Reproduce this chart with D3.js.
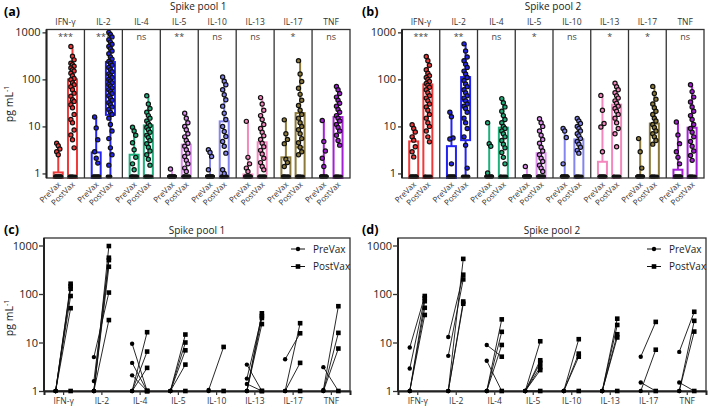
<!DOCTYPE html>
<html lang="en">
<head>
<meta charset="UTF-8">
<title>Spike pool cytokines</title>
<script src="https://d3js.org/d3.v7.min.js"></script>
<style>
  body { margin: 0; background: #fff; }
  svg { font-family: "Open Sans", sans-serif; }
</style>
</head>
<body>
<div id="chart"></div>
<script>
// ---------- data ----------
var cytokines = ["IFN-\u03b3", "IL-2", "IL-4", "IL-5", "IL-10", "IL-13", "IL-17", "TNF"];
var colors = ["#f03a3a", "#2424f0", "#1fb07c", "#e08ef0", "#8585f0", "#f488be", "#8c7a3a", "#a41fd6"];
var groups = ["PreVax", "PostVax"];

var sigA = ["***", "***", "ns", "**", "ns", "ns", "*", "ns"];
var sigB = ["***", "**", "ns", "*", "ns", "*", "*", "ns"];

// box stats per cytokine: [q1, median, q3, max]  (0 = below detection)
var aPreBox  = [[0,0,1.05,4.4],[0,0,2.8,15.8],[0,0,2.5,9.6],[0,0,0,1.24],[0,0,0,3.2],[0,0,0.95,12.8],[0,0,2.2,13.8],[0,0,0,13.4]];
var aPostBox = [[0,34,100,500],[17.6,60,234,1000],[0,0,10.5,45],[0,0,4.1,19],[0,0,12.8,112],[0,0,4.6,41],[0,3.6,19.2,250],[0,0,15.8,71]];
var bPreBox  = [[0,0,4.8,10.9],[0,0,3.8,20],[0,0,0,12],[0,0,0,1.4],[0,0,0,9],[0,0,1.77,45.7],[0,0,0,5.5],[0,0,1.2,12.4]];
var bPostBox = [[0,0,78,307],[5.1,35,112,570],[0,0,9.4,39],[0,0,2.7,14.6],[0,0,5.3,14.7],[0,0,29,83],[0,0,11.5,71],[0,0,9.4,77]];

// detectable individual values
var aPrePts = [
  [4.4,3.9,3.3,2.9,2.5],
  [15.8,9.3,5.2,2.9,2.1,1.66],
  [9.6,8,6.5,4.5,3.2,2.2,1.6,1.2],
  [1.24],
  [3.2,2.8,2.3,1.2],
  [12.8,2.2,1.6,1.3,1.1],
  [13.8,7,5.3,4.3,2,1.7,1.4],
  [13.4,4.8,3,2.1,1.4]
];
var aPostPts = [
  [500,310,260,220,205,190,175,160,150,135,120,105,98,85,77,70,60,51,44,37,34,29,25,18,14,12,8.4,6.6,5.2,3.5],
  [1000,900,800,700,620,560,500,450,400,350,300,270,240,220,200,180,160,145,130,120,110,100,92,85,78,72,66,60,55,50,45,40,36,32,29,26,23,20,18,15,11,8,5.5,3.5,2.5,1.5],
  [45,30,24,20,17,15,13,11.5,10.5,9.5,8.5,7.5,6.5,5.8,5,4.3,3.6,3,2.5,2,1.5],
  [19,15,12,10,8.5,7,6,5,4.4,3.8,3.2,2.7,2.3,1.9,1.6,1.3,1.1],
  [112,91,77,60,47,37,27,19,14,10,7.8,6.1,4.8,3.8,2.7,1.2,1.0],
  [41,30,22,17,14,11,9,7.5,6.3,5.3,4.4,3.7,3.1,2.6,2.1,1.7,1.4,1.2],
  [250,130,90,65,48,36,28,22,18,15,12,10,8.5,7,5.5,4.5,3.6,2.9,2.5],
  [71,60,50,42,36,31,27,23,20,17,15,13,11,9.5,8,6.5,5,4]
];
var bPrePts = [
  [10.9,9,7.6,6,5.1,3.7,2.9,2.25],
  [20,16,5.7,5.4,1.6],
  [12,4.3,3.8,1.02],
  [1.4],
  [9,8,5.8,1.6],
  [45.7,22,11.5,9.7,2.9],
  [5.5,2.9,1.3],
  [12.4,6.6,4.3,2.9,2.2,1.6]
];
var bPostPts = [
  [307,250,200,160,135,120,110,100,90,82,75,68,60,52,45,40,35,30,26,22,18,15,12,10,8,6,4.7],
  [570,400,300,250,210,180,150,130,110,95,80,70,60,52,45,40,35,30,27,24,20,15,12,9,6,4,1.3],
  [39,32,26,21,17,14,12,10,9,8,7,6,5,4.2,3.5,2.8,2.2,1.6],
  [14.6,12,10,8,6.5,5.3,4.4,3.6,3,2.5,2.1,1.8,1.5,1.3,1.1],
  [14.7,13,11.5,10,9,8,7,6.3,5.5,4.8,4.2,3.6,3.1,2.7],
  [83,70,60,52,45,40,35,31,27,24,21,18,15,12,9,7,3.7],
  [71,50,38,30,25,21,18,15,13,11,9.5,8,7,6,5,4.2],
  [77,55,42,33,26,21,17,14,11,9,7.5,6,4.8,3.8,3,2.4,1.9]
];
// number of undetectable samples
var aPreZeros  = [20,15,12,20,20,15,12,18];
var aPostZeros = [8,3,8,12,8,10,8,8];
var bPreZeros  = [15,15,15,20,18,14,18,16];
var bPostZeros = [6,5,6,12,8,6,8,8];

// paired samples (pre -> post), value 1 = at detection floor
var cPre  = [[1,1,1,1,1,1],[5,1.6,1,1,1,1],[9.4,3.8,2.1,1,1,1],[1,1,1,1,1],[1.05,1],[3.5,1.8,1.4,1,1,1],[4.5,1,1,1],[3.1,1.05,1,1]];
var cPost = [[163,145,128,91,51,1],[107,560,975,500,365,29],[1,1,1,16.3,6.5,3.0],[14.6,10,6.9,3.5,1],[8.1,1],[1,35,1,40,32,24],[15.5,25,3.8,1],[1,56,15.8,7.5]];
var dPre  = [[7.9,2.9,1,1,1],[13,5.3,1,1,1],[8.9,4.2,1,1,1],[1,1,1,1,1,1],[1,1,1,1],[1,1,1,1,1],[5.1,1.5,1],[6.4,1.5,1,1]];
var dPost = [[91,82,71,52,37],[250,200,530,70,63],[5.1,1,30,16.6,8.9],[10.6,4.3,3.8,3.1,2.7,1],[11.7,5.9,5.1,1],[31,23,14.8,12.7,1],[26.6,1,7.1],[43,1,28,16.8]];

var yTicks = [1, 10, 100, 1000];

// ---------- svg ----------
var width = 709, height = 410;
var svg = d3.select("#chart").append("svg")
    .attr("width", width)
    .attr("height", height);

function yLabel(x, y) {
  var t = svg.append("text")
    .attr("transform", "translate(" + x + "," + y + ") rotate(-90)")
    .attr("text-anchor", "middle")
    .attr("font-size", 10.5)
    .attr("fill", "#222");
  t.append("tspan").text("pg mL");
  t.append("tspan").attr("dy", -4).attr("font-size", 7).text("-1");
}

// ---------- box + dot panels (a) and (b) ----------
function boxPanel(p) {
  var top = 29.5, bottom = 178;
  var y = d3.scaleLog().domain([0.8, 1150]).range([bottom, top]);
  var fw = (p.right - p.left) / 8;
  var v = function (d) { return d <= 0.8 ? 0.8 : d; };
  var g = svg.append("g");

  g.append("text").attr("x", p.tagX).attr("y", 16)
    .attr("font-size", 12.5).attr("font-weight", "bold").text(p.tag);
  g.append("text").attr("x", (p.left + p.right) / 2).attr("y", 9.5)
    .attr("text-anchor", "middle").attr("font-size", 10).attr("fill", "#222").text(p.title);

  // y axis
  var ax = g.append("g")
    .attr("transform", "translate(" + p.left + ",0)")
    .call(d3.axisLeft(y).tickValues(yTicks).tickFormat(d3.format("d")).tickSize(4).tickPadding(2));
  ax.select(".domain").remove();
  ax.selectAll("text").attr("font-size", 11).attr("fill", "#222").attr("font-family", "Open Sans");
  ax.selectAll("line").attr("stroke", "#333").attr("stroke-width", 1.3);

  cytokines.forEach(function (c, i) {
    var fx = p.left + i * fw;
    g.append("text").attr("x", fx + fw / 2).attr("y", 25)
      .attr("text-anchor", "middle").attr("font-size", 8.5).attr("fill", "#333").text(c);
    g.append("text").attr("x", fx + fw / 2).attr("y", 39.5)
      .attr("text-anchor", "middle").attr("font-size", 9).attr("fill", "#444").text(p.sig[i]);

    [0, 1].forEach(function (k) {
      var cx = fx + fw * (k ? 0.685 : 0.31);
      var b = (k ? p.postBox : p.preBox)[i];
      var pts = (k ? p.postPts : p.prePts)[i];
      var nz = (k ? p.postZeros : p.preZeros)[i];
      var col = colors[i];

      g.append("line").attr("x1", cx).attr("x2", cx)
        .attr("y1", y(0.8)).attr("y2", y(v(b[3])))
        .attr("stroke", col).attr("stroke-width", 2);
      if (b[2] > 0.8) {
        g.append("rect").attr("x", cx - 4.5).attr("width", 9)
          .attr("y", y(b[2])).attr("height", y(v(b[0])) - y(b[2]))
          .attr("fill", "#fff").attr("stroke", col).attr("stroke-width", 2);
      }
      if (b[1] > 0.8) {
        g.append("line").attr("x1", cx - 4.5).attr("x2", cx + 4.5)
          .attr("y1", y(b[1])).attr("y2", y(b[1]))
          .attr("stroke", col).attr("stroke-width", 2);
      }
      // undetectable samples along the floor
      g.selectAll(null).data(d3.range(nz)).enter().append("circle")
        .attr("cx", function (j) { return cx + ((j % 5) - 2) * 1.4; })
        .attr("cy", bottom - 1.5)
        .attr("r", 2)
        .attr("fill", "#111");
      g.selectAll(null).data(pts).enter().append("circle")
        .attr("cx", function (d, j) { return cx + ((j % 3) - 1) * 1.6; })
        .attr("cy", function (d) { return y(d); })
        .attr("r", 2.1)
        .attr("fill", col)
        .attr("stroke", "#111")
        .attr("stroke-width", 1.2);

      g.append("text")
        .attr("transform", "translate(" + (cx + 3) + "," + 185 + ") rotate(-45)")
        .attr("text-anchor", "end")
        .attr("font-size", 8)
        .attr("fill", "#333")
        .text(groups[k]);
    });

    if (i > 0) {
      g.append("line").attr("x1", fx).attr("x2", fx)
        .attr("y1", top).attr("y2", bottom)
        .attr("stroke", "#333").attr("stroke-width", 1.3);
    }
  });

  g.append("rect").attr("x", p.left).attr("y", top)
    .attr("width", p.right - p.left).attr("height", bottom - top)
    .attr("fill", "none").attr("stroke", "#333").attr("stroke-width", 1.3);
  g.append("line").attr("x1", p.left).attr("x2", p.left)
    .attr("y1", top).attr("y2", bottom)
    .attr("stroke", "#222").attr("stroke-width", 2);
}

boxPanel({ left: 46.5, right: 350, tag: "(a)", tagX: 4, title: "Spike pool 1", sig: sigA,
  preBox: aPreBox, postBox: aPostBox, prePts: aPrePts, postPts: aPostPts,
  preZeros: aPreZeros, postZeros: aPostZeros });
boxPanel({ left: 402, right: 704, tag: "(b)", tagX: 362, title: "Spike pool 2", sig: sigB,
  preBox: bPreBox, postBox: bPostBox, prePts: bPrePts, postPts: bPostPts,
  preZeros: bPreZeros, postZeros: bPostZeros });
yLabel(13, 104);

// ---------- paired line panels (c) and (d) ----------
function pairPanel(p) {
  var top = 238, bottom = 391;
  var y = d3.scaleLog().domain([1, 1000]).range([bottom, 245.5]);
  var x = d3.scalePoint().domain(cytokines).range([p.left, p.right]).padding(0.5);
  var g = svg.append("g");

  g.append("text").attr("x", p.tagX).attr("y", 233.5)
    .attr("font-size", 12.5).attr("font-weight", "bold").text(p.tag);
  g.append("text").attr("x", (p.left + p.right) / 2).attr("y", 234)
    .attr("text-anchor", "middle").attr("font-size", 10).attr("fill", "#222").text(p.title);

  g.append("rect").attr("x", p.left).attr("y", top)
    .attr("width", p.right - p.left).attr("height", bottom - top)
    .attr("fill", "none").attr("stroke", "#333").attr("stroke-width", 1.3);

  var ax = g.append("g")
    .attr("transform", "translate(" + p.left + ",0)")
    .call(d3.axisLeft(y).tickValues(yTicks).tickFormat(d3.format("d")).tickSize(5).tickPadding(1));
  ax.select(".domain").attr("stroke", "#222").attr("stroke-width", 2)
    .attr("d", "M0," + top + "V" + bottom);
  ax.selectAll("text").attr("font-size", 11).attr("fill", "#222").attr("font-family", "Open Sans");
  ax.selectAll("line").attr("stroke", "#333").attr("stroke-width", 1.3);

  var bx = g.append("g")
    .attr("transform", "translate(0," + bottom + ")")
    .call(d3.axisBottom(x).tickSize(4).tickPadding(3));
  bx.select(".domain").attr("stroke", "#222").attr("stroke-width", 2);
  bx.selectAll("line").attr("stroke", "#333").attr("stroke-width", 1.2);
  bx.selectAll("text").attr("font-size", 8.5).attr("fill", "#333").attr("font-family", "Open Sans");

  cytokines.forEach(function (c, i) {
    var x0 = x(c) - 7.5, x1 = x(c) + 7.5;
    p.pre[i].forEach(function (d, j) {
      g.append("line").attr("x1", x0).attr("y1", y(d))
        .attr("x2", x1).attr("y2", y(p.post[i][j]))
        .attr("stroke", "#111").attr("stroke-width", 0.9);
    });
    g.selectAll(null).data(p.pre[i]).enter().append("circle")
      .attr("cx", x0).attr("cy", function (d) { return y(d); })
      .attr("r", 2.2).attr("fill", "#000");
    g.selectAll(null).data(p.post[i]).enter().append("rect")
      .attr("x", x1 - 2.3).attr("y", function (d) { return y(d) - 2.3; })
      .attr("width", 4.6).attr("height", 4.6).attr("fill", "#000");
  });

  // legend
  var lx = p.right - 59;
  [0, 1].forEach(function (k) {
    var ly = 249 + k * 17.5;
    g.append("line").attr("x1", lx).attr("x2", lx + 14).attr("y1", ly).attr("y2", ly)
      .attr("stroke", "#111").attr("stroke-width", 1);
    if (k === 0) {
      g.append("circle").attr("cx", lx + 7).attr("cy", ly).attr("r", 2.2).attr("fill", "#000");
    } else {
      g.append("rect").attr("x", lx + 4.7).attr("y", ly - 2.3).attr("width", 4.6).attr("height", 4.6).attr("fill", "#000");
    }
    g.append("text").attr("x", lx + 22).attr("y", ly + 3.5)
      .attr("font-size", 10).attr("fill", "#222").text(groups[k]);
  });
}

pairPanel({ left: 44, right: 350, tag: "(c)", tagX: 4, title: "Spike pool  1", pre: cPre, post: cPost });
pairPanel({ left: 398, right: 706, tag: "(d)", tagX: 362, title: "Spike pool 2", pre: dPre, post: dPost });
yLabel(13, 318);
</script>
</body>
</html>
